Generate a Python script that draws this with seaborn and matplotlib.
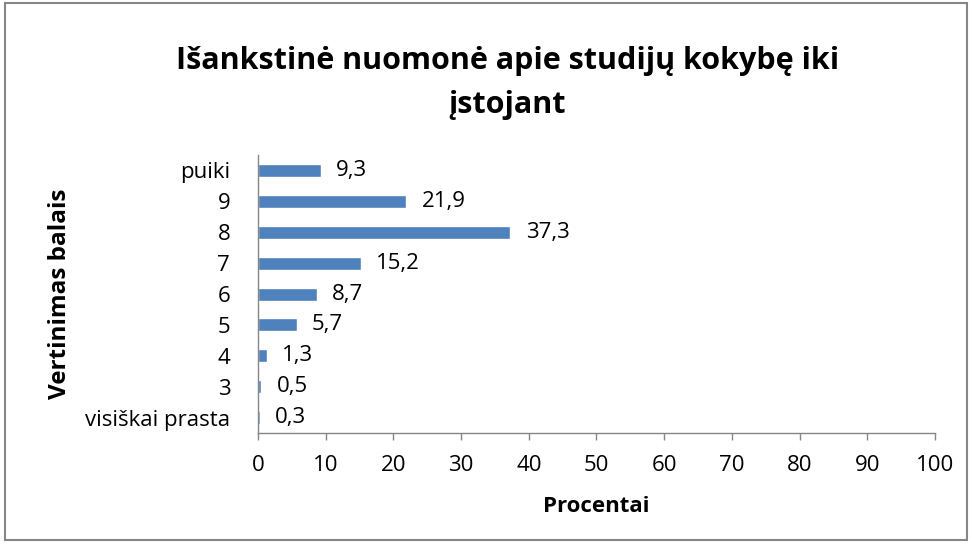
import pandas as pd
import seaborn as sns
import matplotlib.pyplot as plt
from matplotlib.patches import Rectangle

# data, top row first
categories = ["puiki", "9", "8", "7", "6", "5", "4", "3", "visiškai prasta"]
percent = [9.3, 21.9, 37.3, 15.2, 8.7, 5.7, 1.3, 0.5, 0.3]
x_ticks = [0, 10, 20, 30, 40, 50, 60, 70, 80, 90, 100]

df = pd.DataFrame({"kategorija": categories, "procentai": percent})

sns.set_theme(style="white")
plt.rcParams['font.family'] = ['Open Sans', 'DejaVu Sans']

fig = plt.figure(figsize=(9.72, 5.44), dpi=100)
ax = fig.add_axes([0.2654, 0.204, 0.6965, 0.511])

sns.barplot(data=df, x="procentai", y="kategorija", order=categories,
            color="#4F81BD", saturation=1, width=0.42, ax=ax, orient="h")

for p, v in zip(ax.patches, percent):
    ax.annotate(f"{v:.1f}".replace(".", ","),
                (p.get_width(), p.get_y() + p.get_height() / 2),
                xytext=(11, 0), textcoords="offset points",
                ha="left", va="center", fontsize=16, color="black")

ax.set_xlim(0, 100)
ax.set_xticks(x_ticks)
ax.set_xticklabels([str(t) for t in x_ticks], fontsize=16)
ax.tick_params(axis="y", labelsize=16, length=0, pad=20, labelcolor="black")
ax.tick_params(axis="x", length=5, width=1, color="#868686", direction="out",
               pad=11, bottom=True, labelcolor="black")
for s in ["top", "right"]:
    ax.spines[s].set_visible(False)
for s in ["left", "bottom"]:
    ax.spines[s].set_color("#868686")
    ax.spines[s].set_linewidth(1)

ax.set_xlabel("Procentai", fontsize=16, fontweight="bold", labelpad=14, color="black")
ax.set_ylabel("Vertinimas balais", fontsize=17.5, fontweight="bold", color="black")
ax.yaxis.set_label_coords(-0.274, 0.5)

fig.text(0.522, 0.848, "Išankstinė nuomonė apie studijų kokybę iki\nįstojant",
         ha="center", va="center", fontsize=22, fontweight="bold",
         linespacing=1.6, color="black")

fig.patches.append(Rectangle((0.005, 0.008), 0.99, 0.986, transform=fig.transFigure,
                             fill=False, edgecolor="#868686", linewidth=1.5))

fig.savefig("out.png", dpi=100)
